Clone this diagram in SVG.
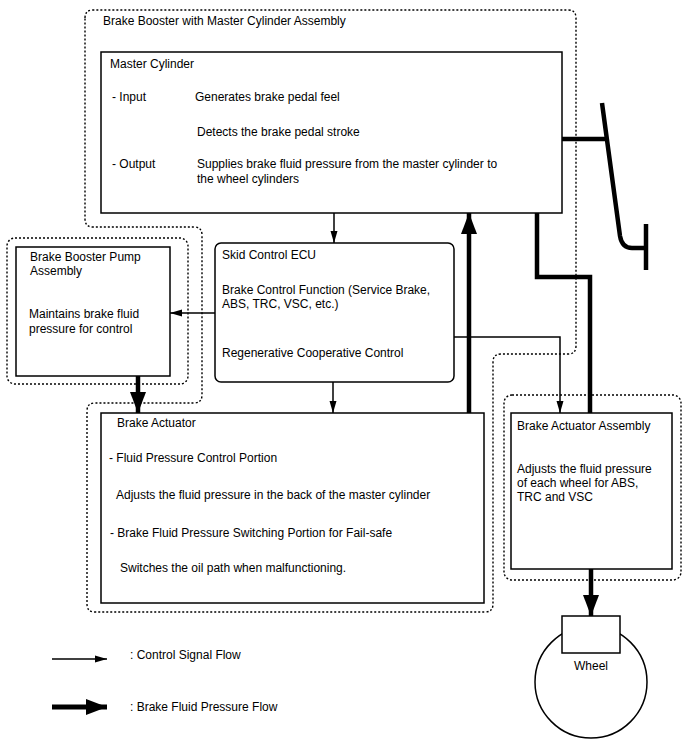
<svg xmlns="http://www.w3.org/2000/svg" width="688" height="755" viewBox="0 0 688 755">
<style>
text{font-family:"Liberation Sans",Arial,sans-serif;font-size:12px;fill:#000}
.box{fill:#fff;stroke:#000;stroke-width:1.5}
.dot{fill:none;stroke:#000;stroke-width:1.4;stroke-dasharray:2,2}
.thin{fill:none;stroke:#000;stroke-width:1.5}
.thick{fill:none;stroke:#000;stroke-width:4.5}
</style>
<defs>
<marker id="ah" markerUnits="userSpaceOnUse" markerWidth="12" markerHeight="8" refX="12" refY="4" orient="auto"><path d="M0,0.5 L12,4 L0,7.5 z" fill="#000"/></marker>
<marker id="AH" markerUnits="userSpaceOnUse" markerWidth="21" markerHeight="18" refX="21" refY="9" orient="auto"><path d="M0,1 L21,9 L0,17 z" fill="#000"/></marker>
</defs>
<g id="assembly-outline">
<path class="dot" d="M85,18 Q85,10 93,10 L568,10 Q576,10 576,18 L576,346 Q576,354 568,354 L501,354 Q493,354 493,362 L493,604 Q493,612 485,612 L95,612 Q87,612 87,604 L87,411 Q87,403 95,403 L194,403 Q202,403 202,395 L202,235 Q202,227 194,227 L93,227 Q85,227 85,219 Z"/>
<text x="103" y="25">Brake Booster with Master Cylinder Assembly</text>
</g>
<g id="connectors">
<line class="thin" x1="334" y1="213" x2="334" y2="243" marker-end="url(#ah)"/>
<line class="thin" x1="333" y1="382" x2="333" y2="413" marker-end="url(#ah)"/>
<line class="thin" x1="215" y1="313" x2="170" y2="313" marker-end="url(#ah)"/>
<polyline class="thin" points="454,337 560,337 560,413" marker-end="url(#ah)"/>
<line class="thick" x1="469" y1="413" x2="469" y2="213" marker-end="url(#AH)"/>
<line class="thick" x1="138" y1="376" x2="138" y2="413" marker-end="url(#AH)"/>
<polyline class="thick" points="537,213 537,277 590,277 590,413"/>
<line class="thick" x1="591" y1="569" x2="591" y2="616" marker-end="url(#AH)"/>
<line class="thick" x1="562" y1="139" x2="605" y2="139"/>
</g>
<g id="pedal">
<path class="thick" d="M602,103 L620,236 Q622,248 632,248 L646,248"/>
<line class="thick" x1="646" y1="224" x2="646" y2="270"/>
</g>
<g id="master-cylinder">
<rect class="box" x="101" y="52" width="461" height="161"/>
<text x="110" y="68">Master Cylinder</text>
<text x="112" y="101">- Input</text>
<text x="195" y="101">Generates brake pedal feel</text>
<text x="197" y="136">Detects the brake pedal stroke</text>
<text x="112" y="168">- Output</text>
<text x="197" y="168">Supplies brake fluid pressure from the master cylinder to</text>
<text x="197" y="183">the wheel cylinders</text>
</g>
<g id="pump">
<rect class="dot" x="7" y="238" width="181" height="146" rx="8"/>
<rect class="box" x="16" y="247" width="154" height="129"/>
<text x="30" y="261">Brake Booster Pump</text>
<text x="30" y="275">Assembly</text>
<text x="29" y="318">Maintains brake fluid</text>
<text x="29" y="333">pressure for control</text>
</g>
<g id="ecu">
<rect class="box" x="215" y="243" width="239" height="139" rx="6"/>
<text x="222" y="259">Skid Control ECU</text>
<text x="222" y="294">Brake Control Function (Service Brake,</text>
<text x="222" y="308">ABS, TRC, VSC, etc.)</text>
<text x="222" y="357">Regenerative Cooperative Control</text>
</g>
<g id="brake-actuator">
<rect class="box" x="101" y="413" width="383" height="190"/>
<text x="117" y="427">Brake Actuator</text>
<text x="109" y="462">- Fluid Pressure Control Portion</text>
<text x="116" y="499">Adjusts the fluid pressure in the back of the master cylinder</text>
<text x="110" y="537">- Brake Fluid Pressure Switching Portion for Fail-safe</text>
<text x="120" y="572">Switches the oil path when malfunctioning.</text>
</g>
<g id="actuator-assembly">
<rect class="dot" x="504" y="395" width="177" height="185" rx="8"/>
<rect class="box" x="511" y="413" width="161" height="156"/>
<text x="517" y="430">Brake Actuator Assembly</text>
<text x="517" y="473">Adjusts the fluid pressure</text>
<text x="517" y="487">of each wheel for ABS,</text>
<text x="517" y="501">TRC and VSC</text>
</g>
<g id="wheel">
<circle cx="591" cy="682" r="56" fill="#fff" stroke="#000" stroke-width="1.5"/>
<rect class="box" x="562" y="616" width="58" height="37"/>
<text x="591" y="670" text-anchor="middle">Wheel</text>
</g>
<g id="legend">
<line class="thin" x1="52" y1="659" x2="107" y2="659" marker-end="url(#ah)"/>
<text x="130" y="659">: Control Signal Flow</text>
<line x1="52" y1="707" x2="107" y2="707" stroke="#000" stroke-width="5" marker-end="url(#AH)"/>
<text x="130" y="711">: Brake Fluid Pressure Flow</text>
</g>
</svg>
